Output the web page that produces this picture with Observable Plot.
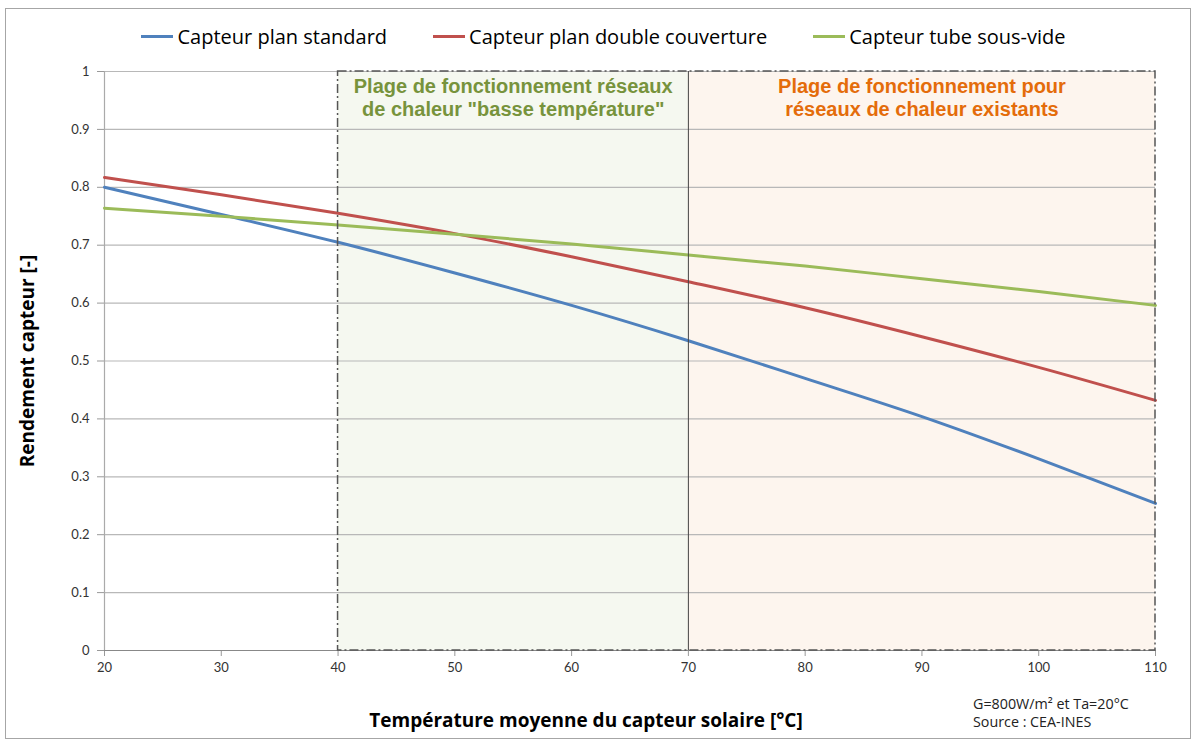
<!DOCTYPE html>
<html><head><meta charset="utf-8">
<script src="https://cdn.jsdelivr.net/npm/d3@7"></script>
<script src="https://cdn.jsdelivr.net/npm/@observablehq/plot@0.6"></script>
<style>
body{margin:0;background:#fff;width:1197px;height:745px;overflow:hidden;position:relative;font-family:"Open Sans",sans-serif;}
#frame{position:absolute;left:5px;top:8px;width:1186px;height:731px;border:1px solid #a6a6a6;box-sizing:border-box;pointer-events:none;}
#legend{position:absolute;left:0;top:0;width:1197px;height:55px;display:flex;justify-content:center;align-items:center;gap:46px;padding-left:10px;box-sizing:border-box;padding-top:18px;font-size:20px;color:#000;}
.item{display:flex;align-items:center;}
.sw{width:32px;height:3px;margin-right:4px;}
#chart{position:absolute;left:0;top:55px;}
#notes{position:absolute;left:973px;top:695px;font-size:14.3px;line-height:18px;color:#222;}
</style></head>
<body>
<div id="legend"></div>
<div id="chart"></div>
<div id="notes"></div>
<div id="frame"></div>
<script>
const temps = [20,30,40,50,60,70,80,90,100,110];
const standard = [0.800,0.753,0.705,0.652,0.596,0.535,0.470,0.404,0.331,0.254];
const doubleCouv = [0.817,0.787,0.755,0.720,0.680,0.637,0.592,0.542,0.489,0.432];
const tube = [0.764,0.750,0.735,0.719,0.702,0.683,0.664,0.642,0.620,0.596];
const seriesNames = ["Capteur plan standard","Capteur plan double couverture","Capteur tube sous-vide"];
const seriesColors = ["#4f81bd","#c0504d","#9bbb59"];
const xTicks = [20,30,40,50,60,70,80,90,100,110];
const yTicks = [0,0.1,0.2,0.3,0.4,0.5,0.6,0.7,0.8,0.9,1];
const bandStart = [40,70];
const bandEnd = [70,110];
const bandLabels = ["Plage de fonctionnement réseaux\nde chaleur \"basse température\"","Plage de fonctionnement pour\nréseaux de chaleur existants"];
const xTitle = "Température moyenne du capteur solaire [°C]";
const yTitle = "Rendement capteur [-]";
const noteLines = ["G=800W/m² et Ta=20°C","Source : CEA-INES"];

const rows = [];
[standard,doubleCouv,tube].forEach((vals,si)=>vals.forEach((v,i)=>rows.push({t:temps[i],v,s:seriesNames[si]})));
const bands = bandStart.map((a,i)=>({x1:a,x2:bandEnd[i],label:bandLabels[i],i}));

const leg = document.getElementById("legend");
seriesNames.forEach((n,i)=>{
  const d=document.createElement("div");d.className="item";
  d.innerHTML=`<span class="sw" style="background:${seriesColors[i]}"></span><span>${n}</span>`;
  leg.appendChild(d);
});
document.getElementById("notes").innerHTML = noteLines.join("<br>");

const plot = Plot.plot({
  width:1197, height:690,
  marginLeft:104, marginRight:42, marginTop:16, marginBottom:95,
  style:{fontFamily:"Lato, sans-serif", fontSize:"13px", color:"#333", background:"transparent"},
  x:{domain:[20,110]},
  y:{domain:[0,1]},
  color:{domain:seriesNames, range:seriesColors},
  marks:[
    Plot.rect(bands,{x1:"x1",x2:"x2",y1:0,y2:1,fill:d=>d.i===0?"#f5f8f0":"#fdf5ee"}),
    Plot.gridY(yTicks.filter(d=>d>0),{stroke:"#b8b8b8",strokeOpacity:1,strokeWidth:1.2}),
    Plot.axisX({ticks:xTicks,tickSize:6,tickPadding:6,stroke:"#999",fontSize:13,label:null}),
    Plot.axisY({ticks:yTicks,tickSize:7,tickPadding:8,stroke:"#999",fontSize:13,tickFormat:d=>String(+d.toFixed(1)),label:yTitle,labelAnchor:"center",labelArrow:"none",labelOffset:84}),
    Plot.text([xTitle],{frameAnchor:"bottom",text:d=>d,dx:-44,dy:76,fontFamily:"Open Sans, sans-serif",fontWeight:"bold",fontSize:19,fill:"#000"}),
    Plot.ruleY([0],{stroke:"#888",strokeWidth:1.2}),
    Plot.ruleX([20],{stroke:"#aaa",strokeWidth:1.2}),
    Plot.lineY(rows,{x:"t",y:"v",stroke:"s",strokeWidth:3,curve:"monotone-x"}),
    Plot.rect([{x1:bandStart[0],x2:bandEnd[1]}],{x1:"x1",x2:"x2",y1:0,y2:1,fill:"none",stroke:"#555",strokeWidth:1.5,strokeDasharray:"9,3,2,3"}),
    Plot.ruleX([bandEnd[0]],{y1:0,y2:1,stroke:"#444",strokeWidth:1}),
    Plot.text(bands,{x:d=>(d.x1+d.x2)/2,y:1,text:"label",dy:26,lineHeight:1.15,fontFamily:"Liberation Sans, Arial, sans-serif",fontWeight:"bold",fontSize:20,fill:d=>d.i===0?"#77933c":"#e46c0a"})
  ]
});
plot.querySelectorAll("g[aria-label='y-axis label'] text").forEach(t=>{t.style.fontWeight="bold";t.style.fontSize="19px";t.style.fill="#000";t.style.fontFamily="'Open Sans',sans-serif";});
plot.querySelectorAll("g[aria-label$='tick label'] text").forEach(t=>{t.style.fill="#333";});
document.getElementById("chart").appendChild(plot);
</script>
</body></html>
